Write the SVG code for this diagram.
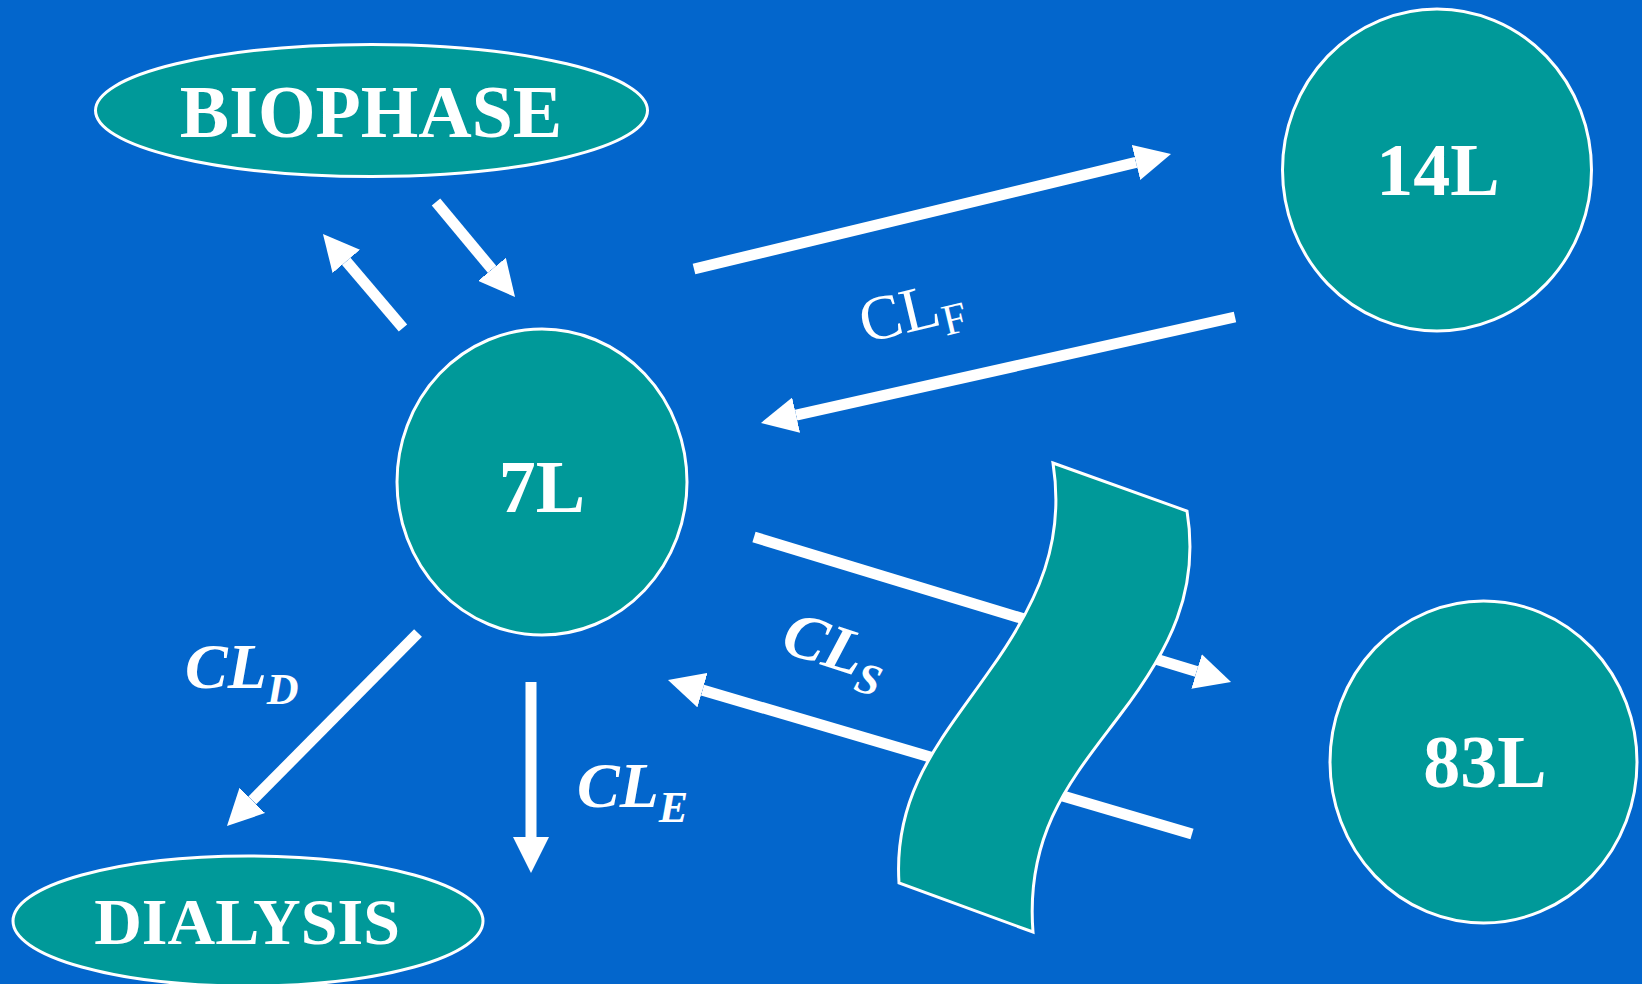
<svg xmlns="http://www.w3.org/2000/svg" width="1642" height="984" viewBox="0 0 1642 984">
<defs>
<marker id="head" markerUnits="userSpaceOnUse" markerWidth="36" markerHeight="36" refX="0" refY="18" orient="auto" viewBox="0 0 36 36">
<path d="M0,0 L36,18 L0,36 Z" fill="#FFFFFF"/>
</marker>
<style>
.node{fill:#009999;stroke:#FFFFFF;stroke-width:3}
.lbl{font-family:"Liberation Serif","Times New Roman",serif;font-weight:bold;fill:#FFFFFF;text-anchor:middle}
.cl{font-family:"Liberation Serif","Times New Roman",serif;font-weight:bold;font-style:italic;fill:#FFFFFF}
.clf{font-family:"Liberation Serif","Times New Roman",serif;fill:#FFFFFF}
.conn{stroke:#FFFFFF;stroke-width:11;fill:none;marker-end:url(#head)}
</style>
</defs>
<rect x="0" y="0" width="1642" height="984" fill="#0366CC"/>
<g id="connectors">
<line class="conn" x1="403" y1="328" x2="346.3" y2="261.4"/>
<line class="conn" x1="436" y1="202" x2="492" y2="269.3"/>
<line class="conn" x1="694" y1="269" x2="1136" y2="162.4"/>
<line class="conn" x1="1235" y1="317" x2="796.1" y2="415.1"/>
<line class="conn" x1="754" y1="537" x2="1196.6" y2="671.5"/>
<line class="conn" x1="1192" y1="834" x2="702.5" y2="690.1"/>
<line class="conn" x1="418" y1="633" x2="252.3" y2="800.4"/>
<line class="conn" x1="531" y1="682" x2="531" y2="837"/>
</g>
<g id="biophase">
<ellipse class="node" cx="371.5" cy="110.5" rx="276" ry="66"/>
<text class="lbl" x="371" y="137" font-size="74">BIOPHASE</text>
</g>
<g id="dialysis">
<ellipse class="node" cx="248" cy="921" rx="235" ry="65"/>
<text class="lbl" x="247" y="944" font-size="66">DIALYSIS</text>
</g>
<g id="central">
<ellipse class="node" cx="542" cy="482" rx="145" ry="153"/>
<text class="lbl" x="542" y="512" font-size="74">7L</text>
</g>
<g id="fast">
<ellipse class="node" cx="1437" cy="170" rx="154.5" ry="161"/>
<text class="lbl" x="1438" y="195" font-size="74">14L</text>
</g>
<g id="slow">
<ellipse class="node" cx="1483.5" cy="762" rx="153.5" ry="161"/>
<text class="lbl" x="1485" y="787" font-size="74">83L</text>
</g>
<g id="membrane">
<path class="node" stroke-width="2.5" d="M1053,463 L1187,511 C1200,590 1170,650 1120,715 C1075,775 1025,830 1033,932 L899,883 C893,790 945,735 990,670 C1040,600 1065,540 1053,463 Z"/>
</g>
<g id="labels">
<text class="clf" transform="translate(865,343) rotate(-13.5)" font-size="63">CL<tspan font-size="44" dy="12">F</tspan></text>
<text class="cl" transform="translate(779,651) rotate(18)" font-size="64">CL<tspan font-size="44" dy="14">S</tspan></text>
<text class="cl" x="185" y="688" font-size="64">CL<tspan font-size="44" dy="16">D</tspan></text>
<text class="cl" x="577" y="807" font-size="64">CL<tspan font-size="44" dy="15">E</tspan></text>
</g>
</svg>
